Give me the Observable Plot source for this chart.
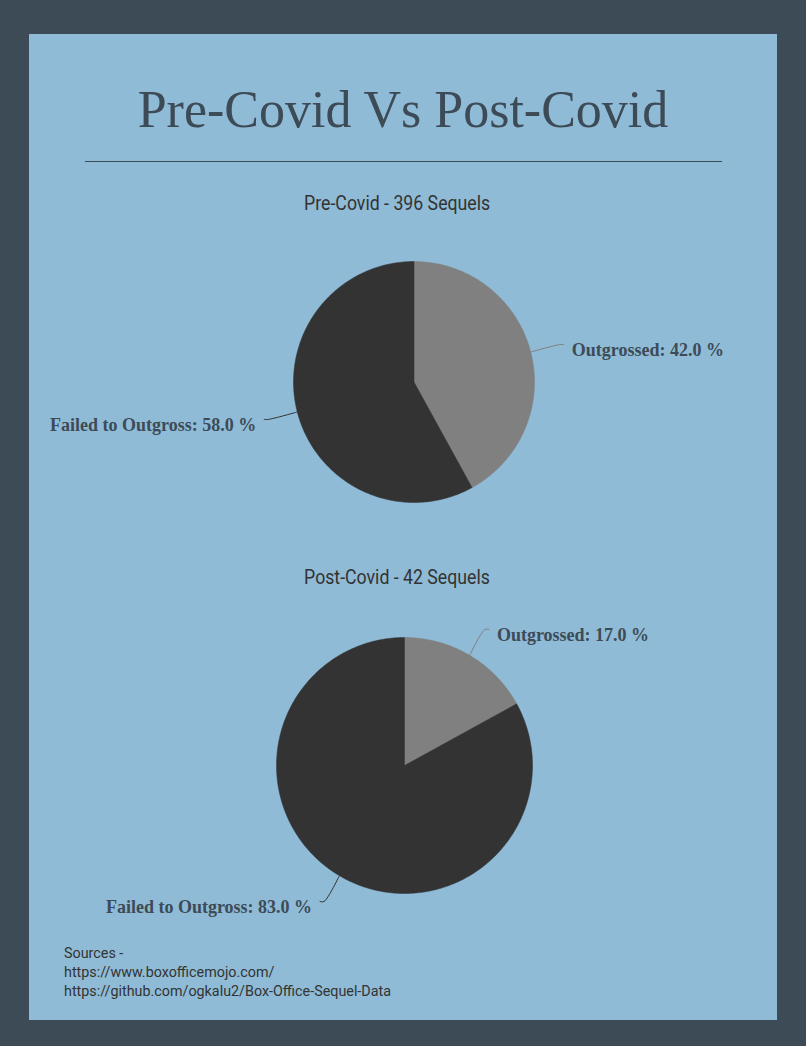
<!DOCTYPE html>
<html>
<head>
<meta charset="utf-8">
<script src="https://cdn.jsdelivr.net/npm/d3@7"></script>
<script src="https://cdn.jsdelivr.net/npm/@observablehq/plot@0.6"></script>
<style>
  html, body { margin: 0; padding: 0; background: #3d4b57; width: 806px; height: 1046px; overflow: hidden; }
  #panel { position: absolute; left: 29px; top: 34px; width: 748px; height: 986px; background: #8fbbd6; }
  #title { position: absolute; left: 0; width: 748px; top: 46px; text-align: center;
    font-family: "Liberation Serif", "Times New Roman", serif; font-size: 52px; line-height: 60px; color: #3d4b57; }
  #rule { position: absolute; left: 56px; width: 637px; top: 127px; height: 0; border-top: 1px solid #3d4b57; }
  .sub { position: absolute; white-space: nowrap; font-family: Roboto, sans-serif; font-size: 20px; line-height: 24px;
    color: #333; transform-origin: 50% 50%; }
  #sources { position: absolute; left: 35px; top: 910px; font-family: Roboto, sans-serif; font-size: 15px; line-height: 19px;
    color: #333; transform-origin: 0 0; white-space: nowrap; }
  .plot { position: absolute; left: 0; }
</style>
</head>
<body>
<div id="panel">
  <div id="title"></div>
  <div id="rule"></div>
</div>
<script>
const chartTitle = "Pre-Covid Vs Post-Covid";
const pieTitles = ["Pre-Covid - 396 Sequels", "Post-Covid - 42 Sequels"];
const categories = ["Outgrossed", "Failed to Outgross"];
const preCovid = [42.0, 58.0];
const postCovid = [17.0, 83.0];
const sourceLines = ["Sources -", "https://www.boxofficemojo.com/", "https://github.com/ogkalu2/Box-Office-Sequel-Data"];

const sliceColors = ["#808080", "#333333"];
const W = 748;
const panel = document.getElementById("panel");
document.getElementById("title").textContent = chartTitle;

function subtitle(text, cx, cy) {
  const d = document.createElement("div");
  d.className = "sub";
  d.textContent = text;
  panel.appendChild(d);
  const w = d.getBoundingClientRect().width;
  d.style.left = (cx - w / 2) + "px";
  d.style.top = (cy - 12) + "px";
  d.style.transform = "scaleX(0.885)";
}

function pie(values, top, H, cx, cy, r) {
  const total = d3.sum(values);
  const slices = [];
  const leaders = [];
  const labels = [];
  let a0 = 0;
  values.forEach((v, i) => {
    const a1 = a0 + v / total * 2 * Math.PI;
    const cat = categories[i];
    slices.push({cat, x: cx, y: cy});
    const n = Math.max(2, Math.ceil((a1 - a0) / (Math.PI / 180)));
    for (let k = 0; k <= n; k++) {
      const a = a0 + (a1 - a0) * k / n;
      slices.push({cat, x: cx + r * Math.sin(a), y: cy - r * Math.cos(a)});
    }
    slices.push({cat, x: cx, y: cy});
    const am = (a0 + a1) / 2;
    const dx = Math.sin(am), dy = -Math.cos(am);
    const side = dx >= 0 ? 1 : -1;
    const ex = cx + r * dx, ey = cy + r * dy;
    const mx = cx + (r + 30) * dx, my = cy + (r + 30) * dy;
    const fx = mx + side * 4, fy = my;
    leaders.push({cat, x: ex, y: ey}, {cat, x: mx, y: my}, {cat, x: fx, y: fy});
    labels.push({cat, side, x: fx + side * 8, y: fy + 5.5, text: `${cat}: ${v.toFixed(1)} %`});
    a0 = a1;
  });
  const textStyle = {fontFamily: "'Liberation Serif', 'Times New Roman', serif", fontWeight: "bold", fontSize: 18, fill: "#3d4b57"};
  const p = Plot.plot({
    width: W, height: H, margin: 0,
    style: {background: "transparent", overflow: "visible"},
    x: {domain: [0, W], range: [0, W], axis: null},
    y: {domain: [0, H], range: [0, H], axis: null},
    color: {domain: categories, range: sliceColors},
    marks: [
      Plot.line(slices, {x: "x", y: "y", z: "cat", fill: "cat", stroke: "cat", strokeWidth: 0.5, curve: "linear"}),
      Plot.line(leaders, {x: "x", y: "y", z: "cat", stroke: "cat", strokeWidth: 1, curve: "catmull-rom"}),
      Plot.text(labels.filter(d => d.side > 0), {x: "x", y: "y", text: "text", textAnchor: "start", ...textStyle}),
      Plot.text(labels.filter(d => d.side < 0), {x: "x", y: "y", text: "text", textAnchor: "end", ...textStyle})
    ]
  });
  p.classList.add("plot");
  p.style.top = top + "px";
  panel.appendChild(p);
}

subtitle(pieTitles[0], 368, 169);
pie(preCovid, 200, 300, 384.5, 147.5, 120.5);
subtitle(pieTitles[1], 368, 543);
pie(postCovid, 566, 340, 375, 165, 128);

const src = document.createElement("div");
src.id = "sources";
src.innerHTML = sourceLines.map(s => `<div>${s}</div>`).join("");
panel.appendChild(src);
src.style.transform = "scaleX(0.955)";
</script>
</body>
</html>
